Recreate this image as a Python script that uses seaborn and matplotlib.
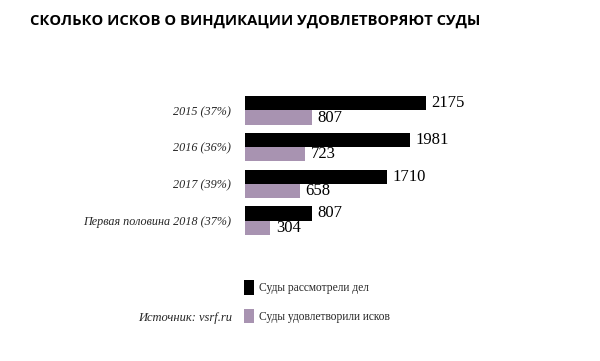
import matplotlib
matplotlib.use("Agg")
import matplotlib.pyplot as plt
import seaborn as sns
import pandas as pd

# data
periods = ["2015 (37%)", "2016 (36%)", "2017 (39%)", "Первая половина 2018 (37%)"]
reviewed = [2175, 1981, 1710, 807]
satisfied = [807, 723, 658, 304]
series_names = ["Суды рассмотрели дел", "Суды удовлетворили исков"]
colors = ["#000000", "#a893b1"]

df = pd.DataFrame({
    "period": periods * 2,
    "value": reviewed + satisfied,
    "series": [series_names[0]] * 4 + [series_names[1]] * 4,
})

sns.set_style("white")
plt.rcParams["font.family"] = ["Liberation Serif", "DejaVu Serif"]

fig = plt.figure(figsize=(6, 3.61), dpi=100)
ax = fig.add_axes([245 / 600, 1 - 239 / 361, 300 / 600, 147 / 361])

sns.barplot(data=df, x="value", y="period", hue="series", orient="h",
            palette=colors, width=0.78, ax=ax, legend=True, saturation=1,
            linewidth=0)

for cont in ax.containers:
    ax.bar_label(cont, padding=4, fontsize=12, color="black")

ax.set_xlim(0, 3606)
ax.set_ylim(3.5, -0.5)
ax.set_xlabel("")
ax.set_ylabel("")
ax.set_xticks([])
ax.tick_params(axis="y", length=0, pad=10)
for lab in ax.get_yticklabels():
    lab.set_fontstyle("italic")
    lab.set_fontsize(8.7)
sns.despine(ax=ax, left=True, bottom=True)

handles, labels = ax.get_legend_handles_labels()
ax.legend(handles, labels, loc="upper left", bbox_to_anchor=(244 / 600, 1 - 280 / 361),
          bbox_transform=fig.transFigure, frameon=False, fontsize=8.3,
          handlelength=0.85, handleheight=1.6, handletextpad=0.45, labelspacing=1.2,
          borderaxespad=0, borderpad=0)

fig.text(30 / 600, 1 - 21 / 361, "СКОЛЬКО ИСКОВ О ВИНДИКАЦИИ УДОВЛЕТВОРЯЮТ СУДЫ",
         fontsize=10.6, fontweight="bold", family=["Open Sans", "DejaVu Sans"],
         color="black", va="center", ha="left")
fig.text(232 / 600, 1 - 318 / 361, "Источник: vsrf.ru", fontsize=9,
         fontstyle="italic", ha="right", va="center")

fig.savefig("out.png", dpi=100)
